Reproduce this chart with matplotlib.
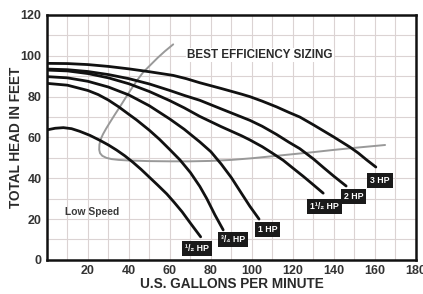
import matplotlib
matplotlib.use('Agg')
import matplotlib.pyplot as plt

plt.rcParams['font.family'] = ['Liberation Sans', 'DejaVu Sans']

# pump curves: gallons per minute vs total head (feet)
hp_half_x = [0, 4, 8, 12, 16, 21, 26, 30, 34, 38, 42, 46, 50, 54, 58.5, 62, 66, 70, 75]
hp_half_y = [63.7, 64.5, 64.8, 64.3, 63, 61, 58.5, 56.3, 53.8, 51, 47.8, 44.3, 40.5, 36.7, 32.3, 28.3, 23.5, 18, 11.3]

hp_34_x = [0, 10, 20, 25, 30, 35, 40, 43.7, 50, 55, 60, 64.9, 70, 74.6, 78, 82, 86]
hp_34_y = [86.5, 85.6, 83, 81, 78.3, 75, 71.3, 68.6, 63.5, 59, 54, 49, 42.8, 36, 30, 22, 14.7]

hp_1_x = [0, 10, 20, 30, 40, 50, 60, 67, 74.6, 80, 85, 90, 95, 99, 103.5]
hp_1_y = [89.8, 89.2, 87.5, 84.7, 80.8, 75.5, 69, 64, 57.8, 53, 47, 40.3, 32.5, 26.3, 20]

hp_112_x = [0, 10, 20, 30, 40, 50, 60, 67, 74.6, 85, 95, 99, 105, 110, 115.3, 120, 125, 130, 134.8]
hp_112_y = [93, 92.6, 91.3, 89.2, 86.3, 82.5, 78, 74.5, 70.3, 65.3, 60.8, 58.8, 55.5, 52.3, 48.8, 45, 41, 36.8, 32.7]

hp_2_x = [0, 10, 20, 30, 40, 50, 60, 67, 74.6, 85, 95, 99, 105, 112, 118, 123.4, 130, 135, 140, 146]
hp_2_y = [93.5, 93.2, 92.3, 90.8, 88.8, 86.2, 83, 80.6, 78.2, 74, 70, 68.4, 65.5, 61.5, 57.7, 54.5, 49.5, 45.2, 41, 36.2]

hp_3_x = [0, 10, 20, 30, 40, 50, 61.6, 68, 74.6, 85, 95, 99, 105, 112, 118, 123.4, 130, 135, 140, 147.8, 152, 156, 160.5]
hp_3_y = [96.3, 96.2, 95.7, 94.8, 93.6, 92.2, 90.4, 88.8, 86.8, 84, 81.2, 80, 77.8, 75, 72.3, 70, 66.2, 63.2, 60.2, 55.3, 52.3, 49, 45.5]

curves_x = [hp_half_x, hp_34_x, hp_1_x, hp_112_x, hp_2_x, hp_3_x]
curves_y = [hp_half_y, hp_34_y, hp_1_y, hp_112_y, hp_2_y, hp_3_y]

labels = ['¹/₂ HP', '³/₄ HP', '1 HP', '1¹/₂ HP', '2 HP', '3 HP']
label_x = [73.4, 90.9, 107.6, 135.4, 149.6, 162.4]
label_y = [5.6, 9.8, 14.7, 26.3, 31, 39]

# best efficiency sizing line
best_x = [61.6, 57.5, 54, 50.5, 47, 44, 41, 38.3, 35.6, 33, 30.5, 28.8, 27.3, 26.2, 25.6, 25.5, 25.9, 27,
          29, 31.5, 35, 40, 50, 60, 70, 80, 90, 100, 110, 120, 130, 140, 150, 165]
best_y = [105.6, 102.2, 99, 95.5, 92, 88, 83.5, 79.3, 75, 71, 67, 64.2, 61.5, 59, 56.5, 54, 52.3, 51,
          50, 49.4, 49, 48.7, 48.4, 48.3, 48.3, 48.5, 49, 49.8, 50.8, 51.8, 52.8, 53.9, 54.9, 56.3]

xticks = [20, 40, 60, 80, 100, 120, 140, 160, 180]
yticks = [0, 20, 40, 60, 80, 100, 120]

fig = plt.figure(figsize=(4.23, 2.94), dpi=100)
ax = fig.add_axes([0.111, 0.116, 0.872, 0.833])

ax.set_xlim(0, 180)
ax.set_ylim(0, 120)
ax.set_xticks(range(0, 181, 10), minor=True)
ax.set_yticks(range(0, 121, 10), minor=True)
ax.set_xticks(xticks)
ax.set_yticks(yticks)
ax.grid(True, which='both', color='#dbd3d3', lw=0.8)
ax.set_axisbelow(True)
ax.tick_params(which='both', length=0, labelsize=9, labelcolor='#333333', pad=4)
for t in ax.get_xticklabels() + ax.get_yticklabels():
    t.set_fontweight('bold')
for s in ax.spines.values():
    s.set_linewidth(1.8)
    s.set_color('#111111')

ax.plot(best_x, best_y, color='#999999', lw=1.4, solid_capstyle='round')
for cx, cy in zip(curves_x, curves_y):
    ax.plot(cx, cy, color='#111111', lw=2.0, solid_capstyle='round')

for lab, lx, ly in zip(labels, label_x, label_y):
    ax.text(lx, ly, lab, color='white', fontsize=6.3, fontweight='bold',
            ha='center', va='center',
            bbox=dict(boxstyle='square,pad=0.35', fc='#1a1a1a', ec='none'))

ax.text(68.5, 100.4, 'BEST EFFICIENCY SIZING', fontsize=8.4, fontweight='bold',
        color='#2a2a2a', ha='left', va='center',
        bbox=dict(boxstyle='square,pad=0.1', fc='white', ec='none'))
ax.text(8.8, 23.7, 'Low Speed', fontsize=7.4, fontweight='bold',
        color='#3a3a3a', ha='left', va='center')

ax.set_xlabel('U.S. GALLONS PER MINUTE', fontsize=9.8, fontweight='bold',
              color='#2a2a2a', labelpad=0)
ax.set_ylabel('TOTAL HEAD IN FEET', fontsize=9.8, fontweight='bold',
              color='#2a2a2a')
ax.yaxis.set_label_coords(-0.066, 0.5)

fig.savefig('out.png', dpi=100)
